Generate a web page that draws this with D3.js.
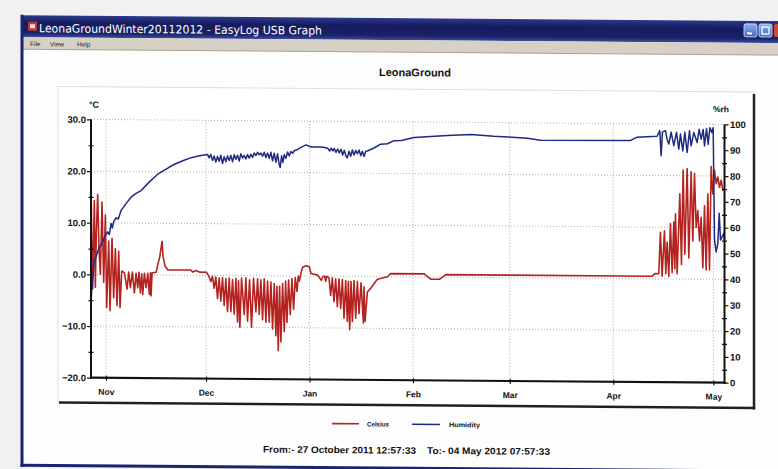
<!DOCTYPE html>
<html><head><meta charset="utf-8">
<script src="https://cdn.jsdelivr.net/npm/d3@7"></script>
<style>html,body{margin:0;padding:0;background:#f1f1f1;} svg{display:block}</style>
</head><body>
<svg id="c" width="778" height="469"></svg>
<script>
// ---------------- data ----------------
const startTime = new Date(2011, 9, 27, 12, 57, 33);
const endTime = new Date(2012, 4, 4, 7, 57, 33);
const windowTitle = "LeonaGroundWinter20112012 - EasyLog USB Graph";
const menuItems = ["File", "View", "Help"];
const chartTitle = "LeonaGround";
const seriesNames = ["Celsius", "Humidity"];
const fromText = "From:- 27 October 2011 12:57:33";
const toText = "To:- 04 May 2012 07:57:33";
const tempTicks = [-20, -10, 0, 10, 20, 30];
const tempMinor = [-15, -5, 5, 15, 25];
const humTicks = [0, 10, 20, 30, 40, 50, 60, 70, 80, 90, 100];
const humMinor = [5, 15, 25, 35, 45, 55, 65, 75, 85, 95];
// [days since start, °C]
const celsius = [
 [0,17.5],[0.3,4],[0.5,-2.8],[0.75,6],[1.0,14.3],[1.3,-2.5],[1.6,8],[2.0,15.5],[2.4,5],[2.8,0],[3.3,14],[3.8,-1.5],[4.3,11.5],[4.7,-6.4],[5.3,6.5],[5.7,-7],[6.3,7],[6.8,-4.5],[7.3,5],[7.8,-6],[8.3,4.5],[8.7,-6.4],[9.2,0.7],
 [10.0,0.4],[10.8,-2.8],[11.3,0.5],[11.8,-2.5],[12.4,0.5],[13.0,-3.5],[13.5,0.3],[14.0,-2.5],[14.4,0.5],[14.8,-3.5],[15.2,0.2],[15.5,-3.8],[16.0,0.3],[16.5,-2.5],[17.0,0.3],[17.5,-3.8],[17.8,0.4],[18.0,-4.1],[18.3,0.4],
 [19.5,0.5],[20.0,2.0],[20.6,3.5],[21.3,6.5],[21.6,3.5],[22.2,1.7],[23.0,1.0],[29.9,1.0],[30.4,0.6],[31.5,0.9],[32.5,0.6],[34.6,0.6],
 [35.4,-0.3],[35.9,-1.2],[36.4,-0.2],[36.9,-2.5],[37.4,-0.3],[37.9,-4.5],[38.4,-0.5],[38.9,-5],[39.4,-0.4],[39.9,-5.8],[40.4,-0.6],[40.9,-7],[41.4,-0.5],[41.9,-7],[42.4,-0.8],[42.9,-7.5],[43.4,-0.6],[43.9,-9],[44.2,-1],[44.6,-10],[45.1,-0.5],[45.9,-7.5],[46.4,-0.4],[46.9,-8.8],[47.5,-0.8],[48.1,-10],[48.7,-0.5],[49.4,-7],[49.9,-0.6],[50.4,-7.5],[50.9,-0.8],[51.4,-8.5],[51.9,-0.6],[52.4,-9],[52.9,-1],[53.4,-9],[53.9,-1.2],[54.4,-10.3],[54.9,-1.5],[55.4,-11.6],[55.7,-2],[56.1,-14.5],[56.5,-2],[56.9,-12.8],[57.4,-1.5],[57.9,-10.8],[58.3,-1],[58.7,-9],[59.2,-0.8],[59.7,-7.5],[60.2,-0.5],[60.7,-6.5],[61.2,-0.3],[61.7,-3],[62.1,0],[62.4,-1],[63.0,0.8],[63.4,1.7],[64.4,2.0],[65.4,1.8],[65.9,0.5],[67.9,0.2],
 [69.0,-0.8],[69.5,0],[70.0,0],[70.3,-1],[70.6,0],[71.3,-0.3],[71.8,-3.7],[72.3,-0.3],[72.8,-4.9],[73.3,-0.5],[73.8,-5.9],[74.3,-0.5],[74.8,-6.2],[75.3,-0.6],[75.8,-8.1],[76.3,-0.8],[76.8,-8.7],[77.1,-1],[77.5,-10.3],[77.9,-1],[78.3,-8.7],[78.8,-0.8],[79.3,-8.1],[79.8,-1],[80.3,-7.2],[80.9,-1.2],[81.6,-9.0],[81.8,-2],[82.1,-8.7],[82.8,-3],[83.5,-2.5],[84.3,-1.8],[85.8,-0.5],[88.8,0],[89.8,0.6],[99.8,0.6],[100.8,0.1],[101.8,-0.4],[104.5,-0.4],[105.5,0.1],[106.3,0.5],[168.1,0.5],[169,1],[170.1,1],
 [170.6,9.0],[171.1,0.5],[171.8,9.3],[172.2,1],[172.6,7.1],[173.1,0.5],[173.6,10.7],[174.1,1.2],[174.6,11],[174.9,2],[175.1,12.6],[175.6,1],[176.4,16.5],[176.9,2.8],[177.4,21.1],[177.9,4.8],[178.6,21.4],[179.1,4.1],[179.8,20.8],[180.3,7.4],[180.8,20.5],[181.3,10],[181.8,13.3],[182.3,7.4],[182.8,12],[183.3,2.2],[183.8,14.2],[184.3,1.8],[184.8,16.5],[185.3,1.8],[185.8,21.8],[186.3,16.5],[186.8,21.1],[187.3,18.5],[187.8,19.8],[188.3,17.8],[188.8,19.2],[189.3,17.2],[189.79,17.5]
];
// [days since start, %rh]
const humidity = [
 [0,28],[0.2,34],[0.5,38],[1.0,45],[1.8,48],[2.5,50.6],[3.3,52],[4.0,54.5],[5.0,56.5],[5.5,55.5],[6.0,59.8],[6.4,58],[6.8,60.5],[7.5,62],[8.2,61.5],[9.0,64.8],[10.5,67.5],[12.0,70],[13.5,71.5],[15.0,72.6],[17.5,76],[20.0,79],[22.5,81],[25.0,82.9],[27.5,84.3],[30.0,85.5],[32.5,86.3],[34.9,86.8],
 [35.4,85.5],[35.9,86.8],[36.4,84.5],[36.9,86.2],[37.4,83.9],[37.9,86],[38.4,84.2],[38.9,86.5],[39.4,83.3],[39.9,86],[40.4,84],[40.9,86.3],[41.4,84.5],[41.9,86.5],[42.4,84],[42.9,86.8],[43.4,85],[43.9,86.6],[44.4,84.3],[44.9,87.2],[45.4,85.5],[45.9,86.5],[46.4,85.2],[46.9,86.9],[47.4,85.5],[47.9,87],[48.4,85.8],[48.9,87.5],[49.4,86.5],[49.9,87.8],[50.4,86.8],[50.9,87.5],[51.4,86.3],[51.9,87.8],[52.4,85.8],[52.9,87.5],[53.4,85.5],[53.9,87.8],[54.4,84.5],[54.9,87.5],[55.4,84],[55.9,87.2],[56.4,83],[56.7,82],[57.1,86.5],[57.5,84],[57.9,87],[58.4,85.5],[58.9,88],[59.4,86.5],[59.9,88.2],[60.4,87.5],[60.9,88.5],[61.9,89],[62.9,89.8],[64.4,90.8],[65.9,90],[68.9,90],[70.0,89.8],
 [71.0,89.5],[71.5,88.5],[72.0,89.6],[72.5,88.5],[72.9,89.5],[73.4,88],[73.9,89.3],[74.4,87.8],[74.9,89.2],[75.4,87],[75.9,88.8],[76.4,86.5],[76.8,85.9],[77.3,88.5],[77.8,86.5],[78.3,89],[78.8,87],[79.3,88.8],[79.8,87.5],[80.3,89],[80.8,86.8],[81.3,88.5],[81.8,86.5],[82.3,88.5],[82.8,88.6],[84.8,89.8],[86.8,91.3],[88.8,91.5],[90.8,92.7],[93,92.8],[96.8,94],[101.8,94.4],[106.8,94.9],[113.8,95.3],[120.7,94.7],[125,94.5],[130.7,94],[134.7,93.3],[161.7,93.5],[163.6,94.8],[169.6,95.2],
 [170.4,97.4],[170.8,87.7],[171.2,96.8],[172.1,97.4],[172.6,94],[173.1,92.2],[173.8,96.8],[174.6,91.6],[175.4,96.8],[176.1,90.3],[176.6,96.1],[177.3,89.6],[177.9,96.8],[178.6,89],[179.3,97.4],[179.8,91.6],[180.6,96.8],[181.6,92.9],[182.2,98],[182.8,94.2],[183.4,98],[183.8,91.6],[184.4,98.3],[184.9,92.2],[185.4,98.7],[186.0,96.8],[186.4,98.7],[186.6,77.3],[186.8,55.2],[187.3,50.6],[187.8,53.9],[188.2,65.6],[188.6,55.2],[189.1,56.5],[189.6,57.8],[189.79,55.2]
];

// ---------------- drawing ----------------
const svg = d3.select("#c");
const defs = svg.append("defs");
const tg = defs.append("linearGradient").attr("id","tb").attr("x1",0).attr("y1",0).attr("x2",0).attr("y2",1);
tg.append("stop").attr("offset","0%").attr("stop-color","#2d3a8c");
tg.append("stop").attr("offset","35%").attr("stop-color","#151b5e");
tg.append("stop").attr("offset","80%").attr("stop-color","#1a2268");
tg.append("stop").attr("offset","100%").attr("stop-color","#3b4c9e");
const bg = defs.append("linearGradient").attr("id","btn").attr("x1",0).attr("y1",0).attr("x2",0).attr("y2",1);
bg.append("stop").attr("offset","0%").attr("stop-color","#8fb0f0");
bg.append("stop").attr("offset","100%").attr("stop-color","#3f66c8");

svg.append("rect").attr("width",778).attr("height",469).attr("fill","#f1f1f1");
const root = svg.append("g").attr("transform","skewY(0.45)");

// window
root.append("rect").attr("x",21).attr("y",14.5).attr("width",800).attr("height",451).attr("fill","#fdfdfd");
root.append("rect").attr("x",23).attr("y",15).attr("width",800).attr("height",22).attr("fill","url(#tb)");
root.append("rect").attr("x",23).attr("y",37).attr("width",800).attr("height",12).attr("fill","#d7d1c5");
root.append("line").attr("x1",23).attr("x2",823).attr("y1",49).attr("y2",49).attr("stroke","#a9a192").attr("stroke-width",1);
root.append("rect").attr("x",20.5).attr("y",14.5).attr("width",3).attr("height",452).attr("fill","#1b2470");
root.append("rect").attr("x",20.5).attr("y",463.5).attr("width",800).attr("height",3).attr("fill","#1b2470");
// icon
root.append("rect").attr("x",28).attr("y",21.5).attr("width",9).attr("height",9).attr("fill","#c23a34");
root.append("rect").attr("x",30).attr("y",24).attr("width",5).attr("height",4).attr("fill","#f2dede");
root.append("text").attr("x",39).attr("y",32).attr("fill","#ffffff")
  .attr("font-family","DejaVu Sans, sans-serif").attr("font-size",11.5)
  .attr("textLength",283).attr("lengthAdjust","spacingAndGlyphs").text(windowTitle);
// window buttons
[[744,"min"],[759,"max"]].forEach(([bx,k])=>{
  root.append("rect").attr("x",bx).attr("y",18).attr("width",13).attr("height",13).attr("rx",2).attr("fill","url(#btn)").attr("stroke","#dfe8ff").attr("stroke-width",0.8);
  if(k==="min") root.append("rect").attr("x",bx+3).attr("y",26.5).attr("width",5).attr("height",2).attr("fill","#fff");
  else root.append("rect").attr("x",bx+3).attr("y",21).attr("width",7).attr("height",7).attr("fill","none").attr("stroke","#fff").attr("stroke-width",1.3);
});
root.append("rect").attr("x",774).attr("y",18).attr("width",13).attr("height",13).attr("rx",2).attr("fill","#d9482c");
// menu
const menuX = [30, 50, 77];
menuItems.forEach((m,i)=>{
  root.append("text").attr("x",menuX[i]).attr("y",46).attr("font-family","Liberation Sans, Arial, sans-serif")
    .attr("font-size",6.5).attr("fill","#222").text(m);
});

// chart panel
root.append("rect").attr("x",58).attr("y",86).attr("width",696).attr("height",316).attr("fill","#ffffff").attr("stroke","#dedede").attr("stroke-width",1);
root.append("line").attr("x1",754).attr("x2",754).attr("y1",88).attr("y2",403.5).attr("stroke","#202020").attr("stroke-width",2.5);
root.append("line").attr("x1",59).attr("x2",755.2).attr("y1",402).attr("y2",402).attr("stroke","#202020").attr("stroke-width",2.5);

root.append("text").attr("x",415).attr("y",73).attr("text-anchor","middle")
  .attr("font-family","Liberation Sans, Arial, sans-serif").attr("font-weight","bold").attr("font-size",11)
  .attr("fill","#111").text(chartTitle);

const L = 91, R = 724.5, T = 118.7, B = 377;
const x = d3.scaleTime().domain([startTime, endTime]).range([L, R]);
const yT = d3.scaleLinear().domain([-20, 30]).range([B, T]);
const yH = d3.scaleLinear().domain([0, 100]).range([B, T]);
const dayDate = d => new Date(startTime.getTime() + d * 864e5);
const months = d3.timeMonth.range(d3.timeMonth.ceil(startTime), endTime);

// grid
const grid = root.append("g").attr("stroke","#9a9a9a").attr("stroke-width",0.8).attr("stroke-dasharray","1,2");
grid.selectAll("line.h").data(tempTicks.filter(v=>v>-20)).join("line")
  .attr("x1",L).attr("x2",R).attr("y1",d=>yT(d)).attr("y2",d=>yT(d));
grid.selectAll("line.v").data(months).join("line")
  .attr("x1",d=>x(d)).attr("x2",d=>x(d)).attr("y1",T).attr("y2",B);

// series
root.append("defs").append("clipPath").attr("id","pc").append("rect").attr("x",L).attr("y",T-2).attr("width",R-L).attr("height",B-T+2);
const plot = root.append("g").attr("clip-path","url(#pc)");
plot.append("path").datum(celsius).attr("fill","none").attr("stroke","#b4231f").attr("stroke-width",1.6).attr("stroke-linejoin","round")
  .attr("d", d3.line().x(d=>x(dayDate(d[0]))).y(d=>yT(d[1])));
plot.append("path").datum(humidity).attr("fill","none").attr("stroke","#1f2a80").attr("stroke-width",1.5).attr("stroke-linejoin","round")
  .attr("d", d3.line().x(d=>x(dayDate(d[0]))).y(d=>yH(d[1])));

// axes
const font = "Liberation Sans, Arial, sans-serif";
function styleAxis(g, size){
  g.selectAll("text").attr("font-family",font).attr("font-weight","bold").attr("font-size",size).attr("fill","#111");
  g.selectAll(".tick line").attr("stroke","#111").attr("stroke-width",1.2);
  g.select(".domain").remove();
}
const ax = root.append("g").attr("transform",`translate(0,${B})`)
  .call(d3.axisBottom(x).tickValues(months).tickFormat(d3.timeFormat("%b")).tickSize(3).tickPadding(8));
styleAxis(ax, 8.5);
ax.selectAll(".tick line").attr("y1",-2);
const al = root.append("g").attr("transform",`translate(${L},0)`)
  .call(d3.axisLeft(yT).tickValues(tempTicks).tickFormat(d3.format(".1f")).tickSize(4).tickPadding(1));
styleAxis(al, 9.5);
al.selectAll("text").text(d=>d3.format(".1f")(d));
const alm = root.append("g").attr("transform",`translate(${L},0)`)
  .call(d3.axisLeft(yT).tickValues(tempMinor).tickFormat("").tickSize(2.5));
alm.select(".domain").remove();
alm.selectAll(".tick line").attr("x2",2.5).attr("x1",-2.5).attr("stroke","#111").attr("stroke-width",1.2);
const ar = root.append("g").attr("transform",`translate(${R},0)`)
  .call(d3.axisRight(yH).tickValues(humTicks).tickSize(4).tickPadding(1.5));
styleAxis(ar, 9.5);
const arm = root.append("g").attr("transform",`translate(${R},0)`)
  .call(d3.axisRight(yH).tickValues(humMinor).tickFormat("").tickSize(2.5));
arm.select(".domain").remove();
arm.selectAll(".tick line").attr("x1",-2.5).attr("stroke","#111").attr("stroke-width",1.2);

// axis lines
root.append("line").attr("x1",L).attr("x2",L).attr("y1",T).attr("y2",B+1).attr("stroke","#111").attr("stroke-width",2);
root.append("line").attr("x1",R).attr("x2",R).attr("y1",T).attr("y2",B+1).attr("stroke","#111").attr("stroke-width",2);
root.append("line").attr("x1",L-1).attr("x2",R+1).attr("y1",B).attr("y2",B).attr("stroke","#111").attr("stroke-width",2.2);

// units
root.append("text").attr("x",89).attr("y",107).attr("font-family",font).attr("font-weight","bold").attr("font-size",9).attr("fill","#111").text("°C");
root.append("text").attr("x",713).attr("y",106.5).attr("font-family",font).attr("font-weight","bold").attr("font-size",8.5).attr("fill","#111").text("%rh");

// legend
const leg = [[332,359,367,22,"#b4231f"],[412,440,449,31,"#1f2a80"]];
leg.forEach((l,i)=>{
  root.append("line").attr("x1",l[0]).attr("x2",l[1]).attr("y1",421).attr("y2",421).attr("stroke",l[4]).attr("stroke-width",1.6);
  root.append("text").attr("x",l[2]).attr("y",423.5).attr("font-family",font).attr("font-weight","bold").attr("font-size",6.5)
    .attr("textLength",l[3]).attr("lengthAdjust","spacingAndGlyphs").attr("fill","#111").text(seriesNames[i]);
});
// footer
root.append("text").attr("x",263).attr("y",450.5).attr("font-family",font).attr("font-weight","bold").attr("font-size",9.5)
  .attr("textLength",153).attr("lengthAdjust","spacingAndGlyphs").attr("fill","#111").text(fromText);
root.append("text").attr("x",427).attr("y",450.5).attr("font-family",font).attr("font-weight","bold").attr("font-size",9.5)
  .attr("textLength",123).attr("lengthAdjust","spacingAndGlyphs").attr("fill","#111").text(toText);
</script>
</body></html>
